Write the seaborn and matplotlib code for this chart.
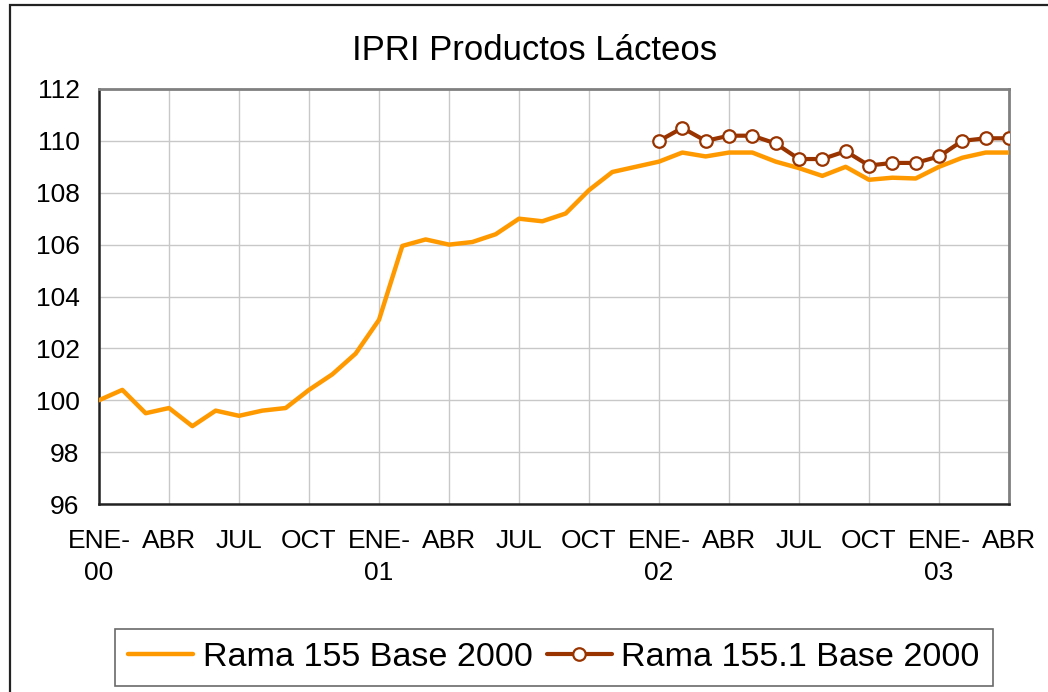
import numpy as np
import pandas as pd
import matplotlib
matplotlib.use("Agg")
import matplotlib.pyplot as plt
import seaborn as sns
from matplotlib.patches import Rectangle

# ---------------- data ----------------
month_names = ["ENE", "FEB", "MAR", "ABR", "MAY", "JUN", "JUL", "AGO", "SEP", "OCT", "NOV", "DIC"]
year_codes = ["00", "01", "02", "03"]
periods = [f"{m}-{y}" for y in year_codes for m in month_names][:40]

rama155 = [100.0, 100.4, 99.5, 99.7, 99.0, 99.6, 99.4, 99.6, 99.7, 100.4,
           101.0, 101.8, 103.1, 105.95, 106.2, 106.0, 106.1, 106.4, 107.0, 106.9,
           107.2, 108.1, 108.8, 109.0, 109.2, 109.55, 109.4, 109.55, 109.55, 109.2,
           108.95, 108.65, 109.0, 108.5, 108.58, 108.55, 109.0, 109.35, 109.55, 109.55]
rama1551_start = "ENE-02"
rama1551 = [110.0, 110.5, 110.0, 110.2, 110.2, 109.9, 109.3, 109.3, 109.6, 109.05,
            109.15, 109.15, 109.4, 110.0, 110.1, 110.1]

tick_periods = ["ENE-00", "ABR-00", "JUL-00", "OCT-00", "ENE-01", "ABR-01", "JUL-01", "OCT-01",
                "ENE-02", "ABR-02", "JUL-02", "OCT-02", "ENE-03", "ABR-03"]
tick_labels = ["ENE-\n00", "ABR", "JUL", "OCT", "ENE-\n01", "ABR", "JUL", "OCT",
               "ENE-\n02", "ABR", "JUL", "OCT", "ENE-\n03", "ABR"]
y_ticks = [96, 98, 100, 102, 104, 106, 108, 110, 112]

title = "IPRI Productos Lácteos"
label1 = "Rama 155 Base 2000"
label2 = "Rama 155.1 Base 2000"

# ---------------- frames ----------------
idx = {p: i for i, p in enumerate(periods)}
df1 = pd.DataFrame({"t": [idx[p] for p in periods], "v": rama155})
s0 = idx[rama1551_start]
df2 = pd.DataFrame({"t": [s0 + i for i in range(len(rama1551))], "v": rama1551})

# ---------------- style ----------------
sns.set_theme(style="white")
plt.rcParams["font.family"] = ["Liberation Sans", "DejaVu Sans"]
plt.rcParams["text.color"] = "black"

W, H = 1048, 692
fig = plt.figure(figsize=(W / 100, H / 100), dpi=100)
fig.patch.set_facecolor("white")
ax = fig.add_axes([99 / W, 1 - 504 / H, (1009 - 99) / W, (504 - 89) / H])

orange = "#FF9900"
brown = "#993300"

sns.lineplot(data=df1, x="t", y="v", ax=ax, color=orange, linewidth=3.2,
             label=label1, zorder=3)
sns.lineplot(data=df2, x="t", y="v", ax=ax, color=brown, linewidth=3.0,
             marker="o", markersize=9, markerfacecolor="white",
             markeredgecolor=brown, markeredgewidth=1.6, label=label2, zorder=4)

ax.set_xlim(0, len(periods) - 1)
ax.set_ylim(96, 112)
ax.set_xticks([idx[p] for p in tick_periods])
ax.set_xticklabels(tick_labels, fontsize=19, linespacing=1.42, color="black")
ax.set_yticks(y_ticks)
ax.set_yticklabels([str(v) for v in y_ticks], fontsize=19, color="black")
ax.set_xlabel("")
ax.set_ylabel("")

ax.grid(True, color="#c8c8c8", linewidth=1.0)
ax.set_axisbelow(True)
ax.tick_params(axis="both", which="major", direction="out", length=6, width=1.5,
               color="#222222")
ax.tick_params(axis="y", pad=8)
ax.tick_params(axis="x", pad=12)

for side in ["top", "right"]:
    ax.spines[side].set_color("#808080")
    ax.spines[side].set_linewidth(2)
for side in ["left", "bottom"]:
    ax.spines[side].set_color("#222222")
    ax.spines[side].set_linewidth(1.8)

# title
fig.text(535 / W, 1 - 60 / H, title, ha="center", va="baseline", fontsize=25, color="black")

# legend
handles, labels = ax.get_legend_handles_labels()
ax.get_legend().remove()
leg = fig.legend(handles, labels, loc="center", bbox_to_anchor=(554 / W, 1 - 657.5 / H),
                 ncol=2, fontsize=24.6, frameon=True, fancybox=False, shadow=False,
                 handlelength=1.9, handletextpad=0.28, columnspacing=0.42,
                 borderpad=0.38, borderaxespad=0, labelcolor="black")
leg.get_frame().set_edgecolor("#444444")
leg.get_frame().set_linewidth(1.2)

# outer chart frame (cropped at right and bottom)
fig.add_artist(Rectangle((9.5 / W, -0.2), 1.5, (1 - 5 / H) + 0.2, transform=fig.transFigure,
                         fill=False, edgecolor="#222222", linewidth=1.6, clip_on=False))

fig.savefig("out.png", dpi=100)
